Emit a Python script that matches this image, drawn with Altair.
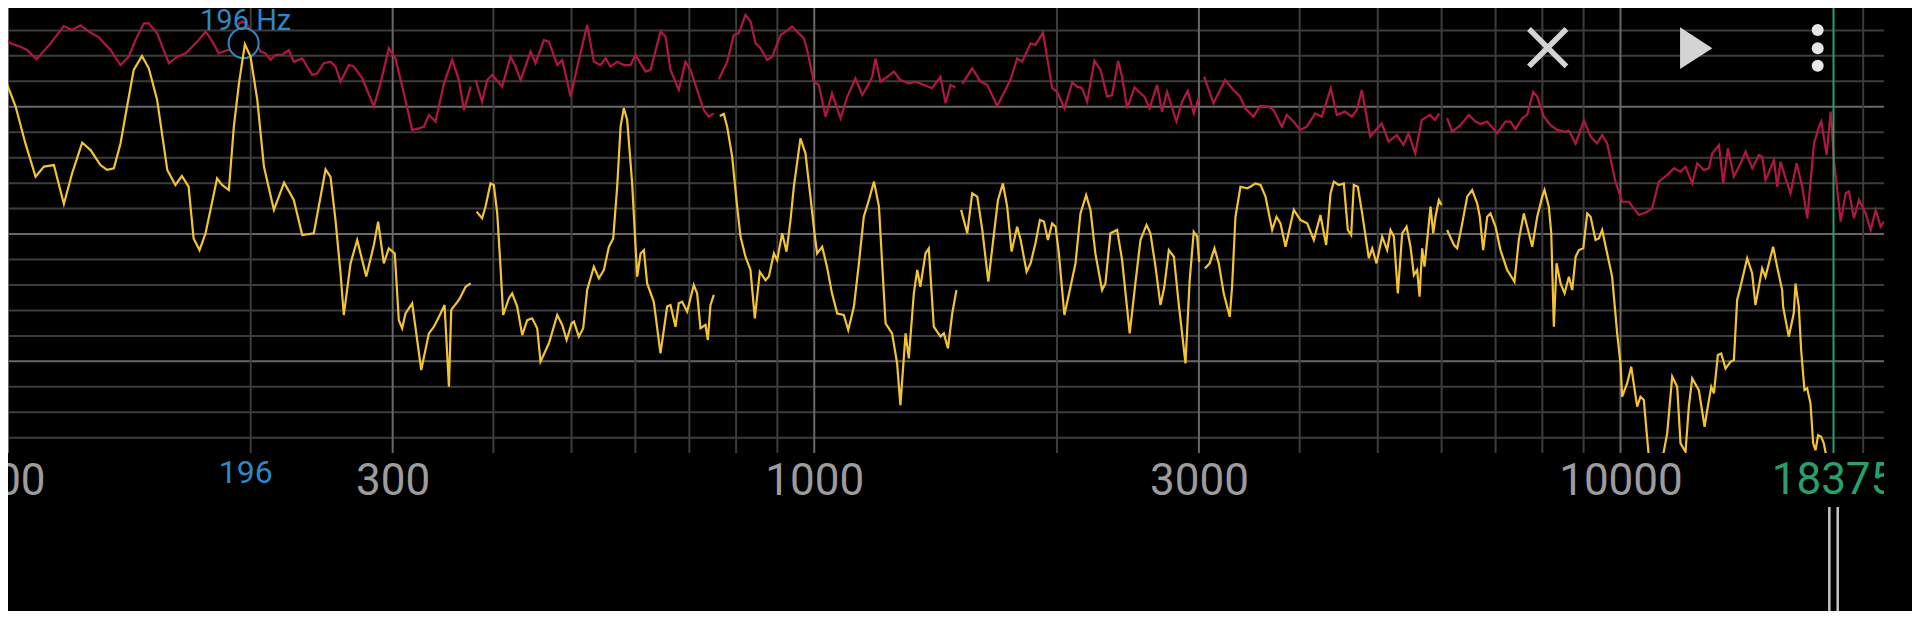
import altair as alt
import pandas as pd

# ---------------- data (frequency in Hz, level in dB) ----------------
red_seg1 = [(97.9,-11.8),(100.7,-15.1),(103.6,-16.4),(105.6,-17.7),(108.5,-21.3),(112.9,-15.1),(117.3,-8.3),
            (120.1,-9.8),(123.0,-8.0),(126.0,-10.5),(129.6,-12.7),(134.0,-17.7),(137.9,-23.6),(141.2,-20.3),
            (143.9,-13.8),(147.4,-7.2),(149.5,-7.2),(153.1,-11.1),(158.3,-22.9),(162.1,-20.3),(166.1,-19.0),
            (171.7,-14.4),(175.8,-10.5),(178.3,-13.1),(182.6,-19.0),(187.0,-17.7),(190.6,-17.7),(193.4,-7.2),
            (195.2,-6.5),(197.6,-7.2),(205.7,-18.3),(208.7,-19.0),(211.6,-21.6),(214.7,-19.6),(218.8,-19.6),
            (223.0,-17.7),(226.2,-22.3),(231.7,-21.0),(238.4,-27.5),(241.8,-26.9),(246.5,-22.9),(251.2,-22.3),
            (254.8,-24.2),(258.5,-30.1),(264.7,-23.6),(268.5,-24.2),(275.0,-28.8),(284.3,-39.9),(289.7,-30.8),
            (296.7,-17.0),(302.4,-21.0),(309.7,-34.7),(317.2,-49.1),(323.3,-48.5),(328.0,-47.8),(332.7,-43.2),
            (339.1,-45.8),(347.3,-30.8),(355.6,-21.6),(362.5,-29.5),(367.7,-41.3),(374.8,-32.1)]
red_seg2 = [(380.1,-29.5),(387.3,-38.0),(392.9,-29.5),(398.6,-27.5),(410.2,-32.1),(420.1,-20.3),(426.1,-24.2),
            (432.3,-29.5),(444.8,-18.3),(451.2,-22.9),(462.0,-13.8),(468.7,-14.4),(480.0,-23.6),(486.9,-21.6),
            (498.7,-36.0),(510.5,-21.6),(522.8,-7.9),(532.9,-22.3),(543.1,-23.6),(551.0,-21.0),(558.9,-24.2),
            (569.6,-22.3),(580.5,-23.6),(591.7,-23.6),(600.2,-19.6),(617.6,-26.2),(626.5,-25.5),(644.6,-10.5),
            (653.9,-12.4),(663.3,-25.5),(679.2,-33.4),(692.3,-22.3),(702.3,-25.5),(715.7,-33.4),(729.5,-41.3),
            (740.0,-43.9),(750.6,-42.6)]
red_seg3 = [(761.5,-29.2),(779.8,-22.3),(794.8,-11.8),(806.3,-11.1),(821.8,-3.9),(833.7,-6.5),(845.7,-15.1),
            (857.8,-17.0),(874.3,-21.6),(886.9,-20.3),(908.3,-11.8),(921.4,-10.5),(939.0,-8.5),(952.5,-10.5),
            (970.7,-13.1),(980.0,-17.7),(998.8,-30.1),(1013,-31.4),(1033,-43.9),(1052,-34.7),(1078,-44.5),
            (1099,-36.0),(1125,-28.8),(1147,-35.4),(1163,-32.1),(1180,-28.2),(1191,-21.0),(1208,-30.1),
            (1225,-28.8),(1255,-26.2),(1279,-29.5),(1310,-30.8),(1335,-30.1),(1367,-31.4),(1400,-32.7),
            (1434,-28.2),(1455,-38.6),(1476,-31.4),(1497,-32.4)]
red_seg4 = [(1526,-31.0),(1570,-24.9),(1608,-30.1),(1639,-31.4),(1686,-39.7),(1751,-29.5),(1785,-21.0),
            (1811,-22.3),(1855,-15.1),(1881,-15.7),(1922,-10.9),(1973,-32.7),(2001,-34.1),(2043,-40.6),
            (2089,-30.5),(2119,-32.1),(2149,-32.7),(2180,-38.0),(2226,-21.9),(2265,-25.5),(2308,-36.0),
            (2341,-35.4),(2382,-22.0),(2409,-28.2),(2444,-40.6),(2496,-32.4),(2539,-34.7),(2568,-36.0),
            (2605,-40.6),(2662,-31.4),(2700,-41.9),(2739,-34.1),(2813,-45.8),(2859,-38.0),(2906,-33.7),
            (2956,-42.6),(2999,-36.3)]
red_seg5 = [(3045,-28.2),(3127,-38.6),(3233,-29.5),(3311,-33.4),(3375,-36.0),(3423,-40.6),(3506,-43.9),
            (3573,-39.7),(3659,-39.9),(3712,-41.3),(3801,-47.8),(3856,-43.2),(3930,-45.8),(4006,-49.1),
            (4082,-47.8),(4181,-42.6),(4261,-43.9),(4372,-32.7),(4447,-43.2),(4554,-41.9),(4642,-43.9),
            (4709,-41.3),(4777,-33.4),(4892,-51.7),(5057,-46.5),(5155,-53.7),(5279,-51.1),(5380,-55.0),
            (5458,-50.4),(5563,-58.3),(5670,-45.2),(5806,-43.2),(5889,-45.2),(5957,-42.6)]
red_seg6 = [(6095,-44.5),(6183,-49.8),(6332,-47.2),(6485,-43.2),(6609,-45.8),(6704,-46.8),(6833,-45.8),
            (7031,-50.4),(7200,-45.8),(7304,-45.8),(7409,-48.9),(7552,-44.5),(7661,-43.2),(7792,-34.1),
            (7883,-36.0),(8035,-43.9),(8189,-47.2),(8347,-49.1),(8547,-49.8),(8630,-49.4),(8797,-54.4),
            (9008,-45.4),(9182,-51.7),(9354,-54.4),(9489,-51.1),(9626,-54.4),(9858,-69.4),(10048,-77.3),
            (10240,-77.3),(10537,-82.5),(10792,-81.2),(10947,-79.9),(11156,-69.4),(11427,-66.8),(11646,-64.2),
            (11870,-65.5),(12041,-63.5),(12274,-70.1),(12450,-62.2),(12688,-64.8),(12871,-64.2),(12995,-58.3),
            (13246,-55.0),(13409,-70.1),(13590,-56.3),(13824,-67.5),(14091,-62.2),(14294,-57.6),(14569,-64.2),
            (14850,-58.9),(14991,-59.6),(15134,-68.8),(15500,-60.9),(15647,-71.4),(15796,-61.6),(16023,-68.1),
            (16254,-74.0),(16537,-62.2),(16806,-71.4),(17048,-83.8),(17377,-54.4),(17627,-47.8),(17745,-45.8),
            (18017,-58.9),(18226,-41.9),(18399,-60.9),(18754,-85.1),(19024,-74.0),(19205,-73.3),(19481,-83.8),
            (19761,-76.6),(20142,-81.9),(20432,-88.4),(20726,-80.5),(21024,-87.1),(21224,-85.1)]

yellow_seg1 = [(97.9,-29.2),(99.8,-31.4),(102.2,-39.9),(105.1,-54.4),(108.2,-67.5),(110.8,-63.5),(114.0,-62.9),
               (117.3,-78.2),(120.1,-66.1),(123.6,-54.1),(126.6,-57.0),(130.2,-62.9),(132.7,-64.8),(135.3,-64.2),
               (137.9,-54.4),(140.5,-39.9),(143.2,-25.5),(146.6,-20.0),(149.5,-24.9),(153.1,-37.3),(157.6,-64.8),
               (161.3,-70.7),(164.3,-67.2),(167.5,-71.4),(169.9,-91.7),(172.8,-96.3),(175.8,-89.7),(181.7,-68.1),
               (184.3,-70.7),(187.9,-72.7),(190.6,-47.8),(193.4,-30.8),(196.7,-15.5),(199.9,-20.3),(203.8,-37.3),
               (207.7,-63.5),(213.7,-80.5),(220.0,-69.8),(226.2,-76.6),(231.7,-90.4),(239.5,-89.7),(242.9,-79.2),
               (247.7,-64.6),(251.2,-67.5),(254.8,-84.5),(258.5,-105.4),(260.9,-121.8),(266.0,-101.5),(271.1,-92.3),
               (278.2,-106.7),(284.3,-94.3),(287.8,-85.1),(292.5,-101.5),(296.7,-95.6),(301.8,-97.6),(305.3,-123.8),
               (308.2,-127.0),(311.2,-121.2),(317.2,-117.2),(325.5,-143.4),(332.7,-129.0),(337.5,-126.4),
               (344.0,-121.2),(347.9,-117.9),(352.3,-150.0),(354.6,-119.8),(362.5,-115.9),(369.5,-110.7),
               (374.8,-109.4)]
yellow_seg2 = [(381.2,-81.2),(387.3,-83.8),(391.1,-79.2),(396.7,-70.1),(400.5,-70.7),(404.4,-81.9),(408.2,-102.8),
               (411.3,-121.8),(418.0,-115.3),(422.0,-113.3),(428.1,-118.5),(434.3,-129.7),(440.5,-123.8),
               (446.8,-123.1),(453.3,-127.0),(457.6,-140.1),(468.7,-132.9),(480.0,-121.8),(486.9,-125.7),
               (493.0,-131.6),(500.1,-125.1),(503.4,-124.4),(510.5,-130.3),(516.9,-127.0),(522.8,-112.0),
               (532.9,-102.8),(540.6,-107.4),(548.4,-104.1),(556.3,-95.0),(563.2,-91.7),(569.6,-71.4),(575.2,-47.8),
               (580.5,-40.6),(586.1,-45.2),(594.5,-70.1),(603.1,-106.7),(609.0,-97.6),(614.7,-96.3),(620.5,-109.4),
               (632.4,-116.6),(644.6,-136.9),(657.0,-118.5),(663.3,-117.9),(672.8,-126.4),(679.2,-117.2),
               (685.7,-116.6),(695.5,-120.5),(708.9,-110.0),(715.7,-113.3),(722.6,-127.0),(733.0,-125.7),
               (737.9,-131.6),(743.5,-117.9),(750.6,-113.9)]
yellow_seg3 = [(763.6,-43.6),(772.3,-42.8),(779.8,-47.8),(791.0,-59.6),(802.4,-79.2),(810.1,-91.0),(821.7,-98.9),
               (833.5,-104.1),(843.9,-123.1),(856.1,-104.8),(870.1,-108.1),(878.5,-106.7),(891.1,-97.6),
               (899.5,-100.2),(912.5,-89.7),(923.9,-96.9),(934.4,-84.5),(943.4,-71.4),(961.4,-52.4),(975.2,-58.3),
               (989.2,-75.3),(1000.7,-89.7),(1008.3,-97.6),(1023,-95.0),(1037,-102.8),(1052,-113.3),(1068,-121.2),
               (1088,-121.8),(1102,-127.7),(1120,-118.5),(1136,-101.5),(1152,-83.2),(1169,-76.6),(1186,-69.4),
               (1203,-79.2),(1214,-101.5),(1226,-125.1),(1249,-129.0),(1267,-140.8),(1279,-157.2),(1298,-129.0),
               (1310,-138.8),(1329,-113.3),(1342,-104.1),(1354,-110.7),(1374,-97.6),(1387,-95.6),(1407,-126.4),
               (1434,-130.3),(1448,-129.0),(1465,-134.9),(1483,-121.2),(1501,-112.0)]
yellow_seg4 = [(1521,-80.5),(1548,-89.7),(1570,-74.0),(1593,-75.3),(1616,-88.4),(1644,-108.7),(1671,-89.7),
               (1690,-76.6),(1714,-70.1),(1735,-79.2),(1757,-96.9),(1785,-87.1),(1803,-92.3),(1834,-104.8),
               (1855,-101.5),(1881,-93.6),(1905,-84.5),(1927,-85.1),(1949,-92.3),(1973,-85.8),(1992,-87.1),
               (2011,-97.6),(2043,-121.8),(2079,-110.7),(2109,-101.5),(2139,-81.9),(2174,-74.7),(2201,-80.5),
               (2232,-97.6),(2275,-112.0),(2297,-109.4),(2330,-89.7),(2375,-88.4),(2409,-100.2),(2462,-129.0),
               (2502,-109.4),(2539,-92.3),(2583,-86.4),(2612,-89.7),(2650,-102.8),(2688,-117.9),(2718,-110.7),
               (2753,-96.3),(2793,-98.9),(2833,-117.9),(2887,-140.8),(2922,-108.1),(2956,-89.1),(2985,-91.0),
               (3002,-100.9)]
yellow_seg5 = [(3051,-103.5),(3094,-101.5),(3136,-95.6),(3175,-101.5),(3220,-113.3),(3276,-122.5),(3298,-110.7),
               (3330,-83.2),(3378,-71.4),(3443,-72.0),(3475,-71.4),(3526,-70.1),(3577,-70.7),(3628,-75.3),
               (3698,-88.4),(3744,-83.2),(3787,-85.8),(3842,-95.0),(3934,-80.5),(4010,-84.5),(4087,-85.8),
               (4165,-92.3),(4245,-82.5),(4286,-89.7),(4315,-94.3),(4369,-74.0),(4410,-69.4),(4474,-70.7),
               (4538,-70.1),(4590,-88.4),(4634,-90.4),(4669,-70.7),(4723,-71.4),(4782,-81.9),(4874,-99.5),
               (4921,-95.6),(4982,-101.5),(5063,-91.0),(5136,-96.3),(5185,-88.4),(5235,-91.0),(5295,-113.3),
               (5361,-89.7),(5428,-87.1),(5490,-95.0),(5543,-106.1),(5595,-104.1),(5633,-114.6),(5676,-95.6),
               (5714,-102.8),(5813,-79.2),(5858,-89.7),(5896,-83.2),(5953,-76.6),(5998,-78.6)]
yellow_seg6 = [(6095,-88.4),(6215,-94.3),(6273,-95.6),(6364,-85.8),(6455,-75.3),(6546,-72.7),(6641,-77.9),
               (6691,-83.2),(6756,-96.3),(6834,-83.2),(6898,-81.9),(6998,-87.1),(7099,-96.3),(7235,-104.1),
               (7388,-108.7),(7480,-92.3),(7588,-81.9),(7697,-89.7),(7772,-95.0),(7884,-83.2),(7997,-75.3),
               (8050,-72.7),(8150,-79.3),(8206,-89.7),(8267,-126.4),(8331,-101.5),(8427,-109.4),(8524,-113.3),
               (8630,-106.8),(8713,-112.0),(8797,-98.9),(8880,-96.3),(8991,-95.6),(9094,-81.9),(9182,-83.2),
               (9312,-92.3),(9400,-91.7),(9491,-88.4),(9627,-97.6),(9765,-106.8),(9906,-129.0),(10000,-140.8),
               (10048,-153.9),(10193,-148.6),(10311,-142.1),(10488,-157.8),(10588,-153.9),(10689,-155.2),
               (10843,-177.5),(11104,-189.3),(11427,-168.3),(11592,-146.0),(11758,-150.0),(11870,-172.2),
               (12041,-175.5),(12156,-157.8),(12274,-146.7),(12508,-151.3),(12714,-165.7),(12811,-159.1),
               (12959,-150.0),(13058,-152.6),(13207,-137.5),(13334,-136.9),(13499,-142.8),(13693,-140.2),
               (13824,-139.5),(13954,-115.9),(14087,-110.7),(14359,-99.5),(14565,-105.4),(14704,-117.9),
               (14986,-103.5),(15129,-106.8),(15464,-95.0),(15642,-102.8),(15868,-112.0),(15912,-118.5),
               (16171,-130.3),(16403,-121.1),(16484,-109.4),(16641,-118.5),(16753,-135.6),(16913,-151.3),
               (17042,-150.6),(17206,-156.5),(17338,-172.2),(17454,-174.9),(17586,-169.0),(17737,-169.6),
               (17872,-172.2),(18009,-177.5),(18474,-190.6),(21300,-190.0)]

red_segments = [red_seg1, red_seg2, red_seg3, red_seg4, red_seg5, red_seg6]
yellow_segments = [yellow_seg1, yellow_seg2, yellow_seg3, yellow_seg4, yellow_seg5, yellow_seg6]

grid_hz_major = [100, 300, 1000, 3000, 10000]
grid_hz_minor = [200, 400, 500, 600, 700, 800, 900, 2000, 4000, 5000, 6000, 7000, 8000, 9000, 20000]
grid_db_major = [-40, -90, -140]
grid_db_minor = [-10, -20, -30, -50, -60, -70, -80, -100, -110, -120, -130, -150, -160, -170]
axis_label_hz = [100, 300, 1000, 3000, 10000]
peak_hz = [196]
peak_db = [-15.0]
peak_text = ["196 Hz"]
peak_tick_text = ["196"]
cursor_hz = [18375]
cursor_text = ["18375"]

# ---------------- styling ----------------
W, H = 1876, 445
RED = "#b0183f"
YELLOW = "#f3c431"
BLUE = "#2f88c4"
GREEN = "#27a06c"
GRID_MINOR = "#3c3c3c"
GRID_MAJOR = "#686868"
LABEL = "#9c9c9c"
ICON = "#d4d4d4"
FONT = "Roboto"

xs = alt.Scale(type="log", domain=[100, 21225], nice=False)
ys = alt.Scale(domain=[-176.0, -1.2], nice=False, zero=False)
xaxis = alt.Axis(values=axis_label_hz, format="d", labelFontSize=44, labelFont=FONT, labelColor=LABEL,
                 ticks=False, tickSize=0, domain=False, grid=False, labelPadding=41,
                 labelBaseline="alphabetic", labelFlush=False, labelOverlap=False, title=None)


def seg_frame(segments, name):
    rows = []
    for i, seg in enumerate(segments):
        for hz, db in seg:
            rows.append({"hz": hz, "db": db, "seg": f"{name}{i}"})
    return pd.DataFrame(rows)


red_df = seg_frame(red_segments, "r")
yellow_df = seg_frame(yellow_segments, "y")

X = lambda: alt.X("hz:Q", scale=xs, axis=xaxis)
Y = lambda: alt.Y("db:Q", scale=ys, axis=None)

hgrid_minor = alt.Chart(pd.DataFrame({"db": grid_db_minor})).mark_rule(
    color=GRID_MINOR, strokeWidth=2, clip=True).encode(y=Y())
hgrid_major = alt.Chart(pd.DataFrame({"db": grid_db_major})).mark_rule(
    color=GRID_MAJOR, strokeWidth=2, clip=True).encode(y=Y())
vgrid_minor = alt.Chart(pd.DataFrame({"hz": grid_hz_minor})).mark_rule(
    color=GRID_MINOR, strokeWidth=2).encode(x=X())
vgrid_major = alt.Chart(pd.DataFrame({"hz": grid_hz_major})).mark_rule(
    color=GRID_MAJOR, strokeWidth=2).encode(x=X())

red_line = alt.Chart(red_df).mark_line(color=RED, strokeWidth=2.2, clip=True).encode(
    x=X(), y=Y(), detail="seg:N")
yellow_line = alt.Chart(yellow_df).mark_line(color=YELLOW, strokeWidth=2.2, clip=True).encode(
    x=X(), y=Y(), detail="seg:N")

peak_df = pd.DataFrame({"hz": peak_hz, "db": peak_db, "label": peak_text, "tick": peak_tick_text})
peak_circle = alt.Chart(peak_df).mark_point(shape="circle", filled=True, fill="#000000", stroke=BLUE,
                                            strokeWidth=2, size=900, opacity=1).encode(x=X(), y=Y())
peak_label = alt.Chart(peak_df).mark_text(font=FONT, fontSize=29, color=BLUE, baseline="alphabetic",
                                          align="center", dx=2).encode(x=X(), y=alt.value(21.5), text="label:N")
peak_tick = alt.Chart(peak_df).mark_text(font=FONT, fontSize=32, color=BLUE, baseline="alphabetic",
                                         align="center", dx=2).encode(x=X(), y=alt.value(475), text="tick:N")

cur_df = pd.DataFrame({"hz": cursor_hz, "label": cursor_text})
cursor_rule = alt.Chart(cur_df).mark_rule(color=GREEN, strokeWidth=2).encode(x=X())
cursor_label = alt.Chart(cur_df).mark_text(font=FONT, fontSize=44, color=GREEN, baseline="alphabetic",
                                           align="center").encode(x=X(), y=alt.value(486), text="label:N")
slider_a = alt.Chart(cur_df).mark_rule(color="#c4c4c4", strokeWidth=2.5, xOffset=-4.2).encode(
    x=X(), y=alt.value(499), y2=alt.value(H + 170))
slider_b = alt.Chart(cur_df).mark_rule(color="#c4c4c4", strokeWidth=2.5, xOffset=4.2).encode(
    x=X(), y=alt.value(499), y2=alt.value(H + 170))

one = pd.DataFrame({"k": [0]})
edge_mask = alt.Chart(one).mark_rect(color="#000000", opacity=1).encode(
    x=alt.value(W), x2=alt.value(W + 40), y=alt.value(-20), y2=alt.value(H + 200))

icon_close = alt.Chart(one).mark_point(shape="M-1,-1L1,1M1,-1L-1,1", filled=False, stroke=ICON,
                                       strokeWidth=5.5, size=1400, opacity=1).encode(
    x=alt.value(1539.7), y=alt.value(39.7))
icon_play = alt.Chart(one).mark_point(shape="M-0.75,-1L0.8,0L-0.75,1Z", filled=True, fill=ICON,
                                      strokeWidth=0, size=1739, opacity=1).encode(
    x=alt.value(1687.7), y=alt.value(40.2))
icon_dots = [
    alt.Chart(one).mark_point(shape="circle", filled=True, fill="#e6e6e6", strokeWidth=0, size=144,
                              opacity=1).encode(x=alt.value(1809.7), y=alt.value(py))
    for py in (22.0, 40.3, 57.7)
]

chart = alt.layer(
    hgrid_minor, hgrid_major, vgrid_minor, vgrid_major,
    red_line, peak_circle, yellow_line,
    cursor_rule, peak_label, peak_tick, cursor_label,
    edge_mask, slider_a, slider_b,
    icon_close, icon_play, *icon_dots,
).properties(
    width=W, height=H,
    padding={"left": 0, "top": 0, "right": 28, "bottom": 158},
    autosize=alt.AutoSizeParams(type="none"),
    background="#000000",
).configure_view(strokeWidth=0)

chart.save("out.html", embed_options={"renderer": "svg", "actions": False})
